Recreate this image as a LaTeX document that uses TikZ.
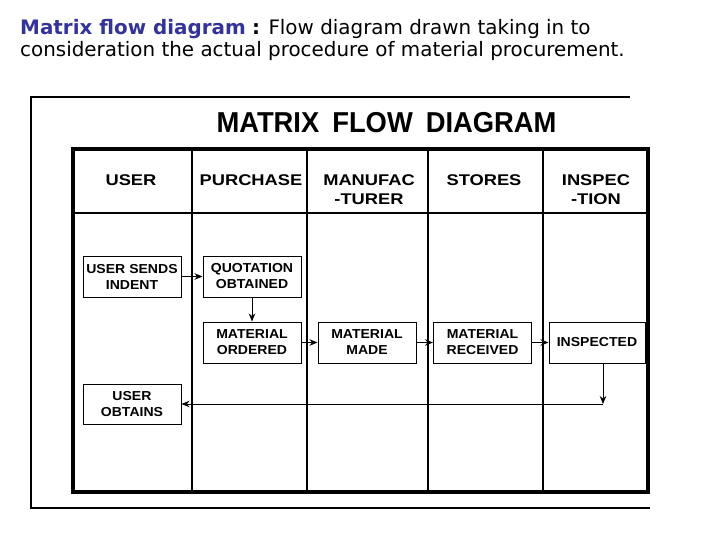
\documentclass[tikz,border=0pt]{standalone}
\usepackage{fontspec}
\setmainfont{Liberation Sans}
\newfontfamily\capfont{DejaVu Sans}
\newfontfamily\hdrfont[FakeStretch=1.18]{Liberation Sans}
\newfontfamily\boxfont[FakeStretch=1.08]{Liberation Sans}
\newfontfamily\ttlfont[FakeStretch=0.95]{Liberation Sans}
\usetikzlibrary{arrows.meta}
\definecolor{capblue}{RGB}{51,51,153}
\begin{document}
\begin{tikzpicture}[x=1pt,y=-1pt,
  tbl/.style={line width=4pt, line cap=rect},
  divline/.style={line width=2.4pt},
  frm/.style={line width=1.8pt},
  box/.style={draw, line width=1pt, minimum width=98pt, minimum height=41pt, inner sep=0pt, align=center, font=\boxfont\bfseries\fontsize{13}{16}\selectfont},
  hdr/.style={align=center, inner sep=0pt, font=\hdrfont\bfseries\fontsize{15.5}{19}\selectfont},
  capt/.style={anchor=base west, inner sep=0pt, font=\capfont\fontsize{19.9}{22}\selectfont},
  arr/.style={line width=0.9pt, -{Stealth[length=8pt,width=6.5pt]}}
]
\useasboundingbox (0,0) rectangle (720,540);
% caption
\node[capt] (cap1) at (20,35) {{\color{capblue}\bfseries Matrix flow diagram} {\bfseries :} Flow diagram drawn taking in to};
\node[capt] (cap2) at (20,57) {consideration the actual procedure of material procurement.};
% outer frame
\draw[frm] (630,97) -- (31,97) -- (31,508) -- (650,508);
% title
\node[inner sep=0pt, font=\ttlfont\bfseries\fontsize{28.8}{32}\selectfont] (ttl) at (386.5,123) {MATRIX\hspace{0.45em}FLOW\hspace{0.45em}DIAGRAM};
% table
\draw[divline] (192,149) -- (192,492);
\draw[divline] (307,149) -- (307,492);
\draw[divline] (428,149) -- (428,492);
\draw[divline] (543,149) -- (543,492);
\draw[divline] (73,213) -- (648,213);
\draw[tbl] (73,149) rectangle (648,492);
% headers
\node[hdr] (hUser) at (131,180) {USER};
\node[hdr] (hPur) at (251,180) {PURCHASE};
\node[hdr] (hMan) at (369,189.5) {MANUFAC\\-TURER};
\node[hdr] (hSto) at (484,180) {STORES};
\node[hdr] (hIns) at (596,189.5) {INSPEC\\-TION};
% boxes
\node[box] (send) at (132,276.5) {USER SENDS\\INDENT};
\node[box] (quot) at (252,276.5) {QUOTATION\\OBTAINED};
\node[box] (ord) at (252,342.5) {MATERIAL\\ORDERED};
\node[box] (made) at (367,342.5) {MATERIAL\\MADE};
\node[box] (recv) at (482.5,342.5) {MATERIAL\\RECEIVED};
\node[box, minimum width=96pt] (insp) at (597,342.5) {INSPECTED};
\node[box, minimum height=40pt] (obt) at (132,404) {USER\\OBTAINS};
% connectors
\coordinate (turn) at (603,404);
\draw[arr] (send) -- (quot);
\draw[arr] (quot) -- (ord);
\draw[arr] (ord) -- (made);
\draw[arr] (made) -- (recv);
\draw[arr] (recv) -- (insp);
\draw[arr] (insp.south -| turn) -- (turn);
\draw[arr] (turn) -- (obt);
\end{tikzpicture}
\end{document}
